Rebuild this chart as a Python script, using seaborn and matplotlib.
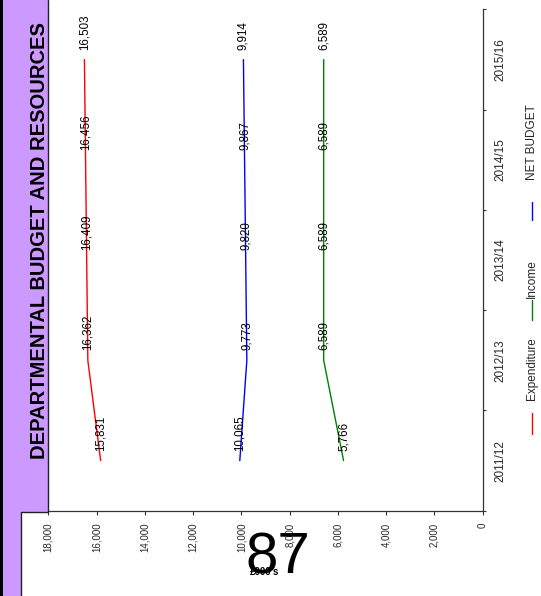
import matplotlib
matplotlib.use("Agg")
import matplotlib.pyplot as plt
import seaborn as sns
import pandas as pd
from matplotlib.patches import Rectangle
from matplotlib.lines import Line2D
from matplotlib.ticker import FuncFormatter

# ---- data ----
years = ["2011/12", "2012/13", "2013/14", "2014/15", "2015/16"]
expenditure = [15831, 16362, 16409, 16456, 16503]
income = [5766, 6589, 6589, 6589, 6589]
net_budget = [10065, 9773, 9820, 9867, 9914]
series_names = ["Expenditure", "Income", "NET BUDGET"]
series_colors = {"Expenditure": "#FF0000", "Income": "#008000", "NET BUDGET": "#0000FF"}
value_ticks = [0, 2000, 4000, 6000, 8000, 10000, 12000, 14000, 16000, 18000]
title_text = "DEPARTMENTAL BUDGET AND RESOURCES"
page_number = "87"
unit_text = "£000's"

sns.set_theme(style="white")
plt.rcParams['font.family'] = ['Liberation Sans', 'DejaVu Sans']

W, H = 541, 596
fig = plt.figure(figsize=(W / 100, H / 100), dpi=100)
fig.patch.set_facecolor("white")

def fx(px):
    return px / W

def fy(py):
    return 1 - py / H

# left band
box_bottom = 512
fig.patches.append(Rectangle((0, 0), fx(2.5), 1, transform=fig.transFigure, facecolor="black", edgecolor="none"))
fig.patches.append(Rectangle((fx(2.5), 0), fx(18.5), 1, transform=fig.transFigure, facecolor="#CC99FF", edgecolor="none"))
fig.lines.append(Line2D([fx(21.3), fx(21.3)], [0, fy(box_bottom)], transform=fig.transFigure, color="#222222", lw=1.0))
fig.patches.append(Rectangle((fx(21), fy(box_bottom)), fx(26.5), 1 - fy(box_bottom), transform=fig.transFigure,
                             facecolor="#CC99FF", edgecolor="none"))
fig.lines.append(Line2D([fx(47.5), fx(47.5)], [fy(box_bottom), 1], transform=fig.transFigure, color="#222222", lw=1.0))
fig.lines.append(Line2D([fx(21), fx(47.5)], [fy(box_bottom), fy(box_bottom)], transform=fig.transFigure, color="#222222", lw=1.0))

# axes
l, r = 48.3, 482.7
t, b = 9.5, 510.7
ax = fig.add_axes([fx(l), fy(b), fx(r) - fx(l), fy(t) - fy(b)])
ax.set_facecolor("none")

rows = []
names_vals = {"Expenditure": expenditure, "Income": income, "NET BUDGET": net_budget}
for name in series_names:
    for i, v in enumerate(names_vals[name]):
        rows.append({"series": name, "pos": i, "value": v})
df = pd.DataFrame(rows)

sns.lineplot(data=df, x="value", y="pos", hue="series", palette=series_colors,
             orient="y", sort=False, legend=False, ax=ax, linewidth=1.0,
             estimator=None)

ax.set_xlim(18000, 0)
ax.set_ylim(-0.5, len(years) - 0.5)
ax.set_xlabel("")
ax.set_ylabel("")

# value axis (bottom)
ax.set_xticks(value_ticks)
ax.xaxis.set_major_formatter(FuncFormatter(lambda v, p: f"{int(v):,}"))
ax.tick_params(axis="x", direction="out", length=3.0, width=0.8, color="#333333",
               pad=5.5, labelsize=7, labelrotation=90, bottom=True)
for lab in ax.get_xticklabels():
    lab.set_va("top")
    lab.set_ha("center")

# category axis (right)
ax.yaxis.tick_right()
ax.set_yticks(range(len(years)))
ax.set_yticklabels(years)
ax.set_yticks([i - 0.5 for i in range(len(years) + 1)], minor=True)
ax.tick_params(axis="y", which="major", length=0, pad=8.5, labelsize=8.5,
               labelright=True, labelleft=False)
ax.tick_params(axis="y", which="minor", direction="out", length=2.0, width=0.8,
               color="#333333", right=True, left=False)
for lab in ax.get_yticklabels():
    lab.set_rotation(90)
    lab.set_va("center")
    lab.set_ha("left")

for side in ["left", "top"]:
    ax.spines[side].set_visible(False)
for side in ["right", "bottom"]:
    ax.spines[side].set_visible(True)
    ax.spines[side].set_color("#333333")
    ax.spines[side].set_linewidth(0.9)
ax.grid(False)

# data labels
for name in series_names:
    for i, v in enumerate(names_vals[name]):
        ax.annotate(f"{v:,}", (v, i), xytext=(0, 7.2), textcoords="offset points",
                    rotation=90, ha="center", va="bottom", fontsize=8.3, color="black")

# legend (rotated, drawn manually)
leg_x = 532
legend_items = [("Expenditure", 413, 434, 369), ("Income", 300, 320, 279), ("NET BUDGET", 202, 220, 142)]
for name, y1, y2, ty in legend_items:
    fig.lines.append(Line2D([fx(leg_x), fx(leg_x)], [fy(y1), fy(y2)], transform=fig.transFigure,
                            color=series_colors[name], lw=1.0))
    fig.text(fx(leg_x), fy(ty), name, rotation=90, ha="center", va="center", fontsize=8.5)

# title
fig.text(fx(39.5), fy(241), title_text, rotation=90, ha="center", va="center",
         fontsize=14.5, fontweight="bold", color="black")

# page number and unit
fig.text(fx(278), fy(559), page_number, ha="center", va="center", fontsize=42, color="black")
fig.text(fx(265), fy(572), unit_text, ha="center", va="center", fontsize=7, fontweight="bold", color="black")

fig.savefig("out.png", dpi=100)
